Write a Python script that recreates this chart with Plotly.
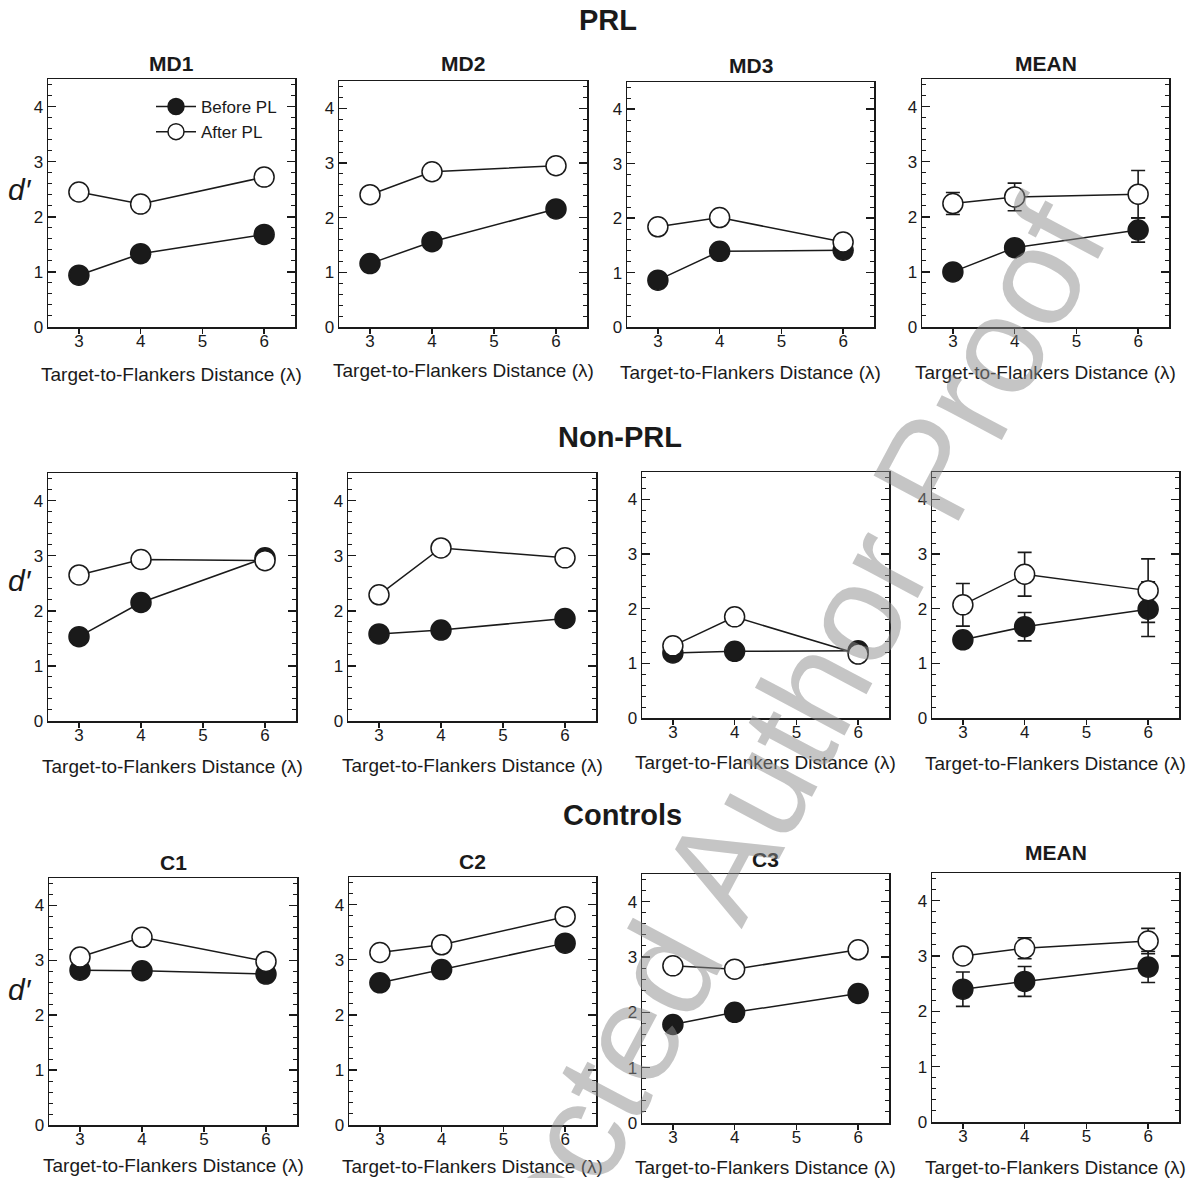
import plotly.graph_objects as go

# ---------------- data ----------------
x_dist = [3, 4, 6]
x_ticks = [3, 4, 5, 6]
y_ticks = [0, 1, 2, 3, 4]

# PRL group
prl_md1_before = [0.94, 1.33, 1.68]
prl_md1_after = [2.45, 2.23, 2.72]
prl_md2_before = [1.16, 1.56, 2.16]
prl_md2_after = [2.42, 2.84, 2.95]
prl_md3_before = [0.86, 1.39, 1.41]
prl_md3_after = [1.84, 2.01, 1.56]
prl_mean_before = [1.00, 1.44, 1.76]
prl_mean_after = [2.24, 2.36, 2.41]
prl_mean_before_err = [0.08, 0.08, 0.22]
prl_mean_after_err = [0.20, 0.25, 0.43]

# Non-PRL group
nprl_md1_before = [1.53, 2.15, 2.96]
nprl_md1_after = [2.65, 2.93, 2.91]
nprl_md2_before = [1.58, 1.65, 1.86]
nprl_md2_after = [2.29, 3.14, 2.96]
nprl_md3_before = [1.19, 1.22, 1.23]
nprl_md3_after = [1.32, 1.85, 1.17]
nprl_mean_before = [1.43, 1.67, 1.99]
nprl_mean_after = [2.07, 2.63, 2.33]
nprl_mean_before_err = [0.10, 0.26, 0.50]
nprl_mean_after_err = [0.39, 0.40, 0.58]

# Controls
ctrl_c1_before = [2.82, 2.81, 2.75]
ctrl_c1_after = [3.06, 3.42, 2.98]
ctrl_c2_before = [2.58, 2.82, 3.30]
ctrl_c2_after = [3.13, 3.27, 3.78]
ctrl_c3_before = [1.78, 2.00, 2.34]
ctrl_c3_after = [2.84, 2.78, 3.13]
ctrl_mean_before = [2.40, 2.54, 2.80]
ctrl_mean_after = [3.00, 3.14, 3.27]
ctrl_mean_before_err = [0.31, 0.27, 0.28]
ctrl_mean_after_err = [0.05, 0.19, 0.23]

panel_titles = ["MD1", "MD2", "MD3", "MEAN",
                "", "", "", "",
                "C1", "C2", "C3", "MEAN"]
group_titles = ["PRL", "Non-PRL", "Controls"]
x_title = "Target-to-Flankers Distance (λ)"
y_title = "d′"
legend_names = ["Before PL", "After PL"]
watermark = "Corrected Author Proof"

# ---------------- layout geometry (pixels of the target page) ----------------
W, H = 1199, 1188
YK = 1188 / 1178.0


def px(xp):
    return xp / W


def py(yp):
    return 1 - (yp * YK) / H


# (left, right, top, bottom) of each plot box
boxes = [
    (48, 295, 79, 327), (339, 587, 81, 327), (627, 874, 82, 327), (922, 1169, 79, 327),
    (48, 296, 473, 721), (348, 596, 473, 721), (642, 889, 472, 718), (932, 1179, 472, 718),
    (49, 297, 878, 1125), (349, 596, 877, 1125), (642, 889, 874, 1123), (932, 1179, 873, 1122),
]
title_y = [63, 64, 65, 63, 0, 0, 0, 0, 862, 861, 860, 852]
xtitle_y = [375, 371, 372, 372, 766, 765, 762, 763, 1165, 1166, 1167, 1167]
group_title_pos = [(608, 20), (620, 437), (622, 815)]
ytitle_pos = [(20, 189), (20, 581), (20, 989)]

befores = [prl_md1_before, prl_md2_before, prl_md3_before, prl_mean_before,
           nprl_md1_before, nprl_md2_before, nprl_md3_before, nprl_mean_before,
           ctrl_c1_before, ctrl_c2_before, ctrl_c3_before, ctrl_mean_before]
afters = [prl_md1_after, prl_md2_after, prl_md3_after, prl_mean_after,
          nprl_md1_after, nprl_md2_after, nprl_md3_after, nprl_mean_after,
          ctrl_c1_after, ctrl_c2_after, ctrl_c3_after, ctrl_mean_after]
before_errs = {3: prl_mean_before_err, 7: nprl_mean_before_err, 11: ctrl_mean_before_err}
after_errs = {3: prl_mean_after_err, 7: nprl_mean_after_err, 11: ctrl_mean_after_err}

FONT = "Liberation Sans, Arial, Helvetica, sans-serif"
INK = "#1a1a1a"

fig = go.Figure()
annotations = []

for i, (l, r, t, b) in enumerate(boxes):
    sfx = "" if i == 0 else str(i + 1)
    xa, ya = "x" + sfx, "y" + sfx
    for k, (vals, errs, fill) in enumerate([(befores[i], before_errs.get(i), INK),
                                            (afters[i], after_errs.get(i), "white")]):
        tr = dict(
            x=x_dist, y=vals, mode="lines+markers", xaxis=xa, yaxis=ya,
            name=legend_names[k], showlegend=(i == 0),
            line=dict(color=INK, width=1.5),
            marker=dict(symbol="circle", size=20, color=fill,
                        line=dict(color=INK, width=1.5)),
            cliponaxis=False,
        )
        if errs is not None:
            tr["error_y"] = dict(type="data", array=errs, visible=True,
                                 color=INK, thickness=1.6, width=7)
        fig.add_trace(go.Scatter(**tr))

    fig.layout["xaxis" + sfx] = dict(
        domain=[px(l), px(r)], anchor=ya, range=[2.5, 6.5],
        tickvals=x_ticks, ticks="outside", ticklen=5, tickwidth=1.5, tickcolor=INK,
        ticklabelstandoff=-7,
        showline=True, linecolor=INK, linewidth=1.5, mirror=True,
        showgrid=False, zeroline=False,
        tickfont=dict(family=FONT, size=17, color=INK),
    )
    fig.layout["yaxis" + sfx] = dict(
        domain=[py(b), py(t)], anchor=xa, range=[0, 4.5],
        tickvals=y_ticks, ticks="inside", ticklen=8, tickwidth=1.5, tickcolor=INK,
        minor=dict(tick0=0, dtick=0.2, ticks="inside", ticklen=4, tickwidth=1, tickcolor=INK),
        showline=True, linecolor=INK, linewidth=1.5, mirror="ticks",
        showgrid=False, zeroline=False,
        tickfont=dict(family=FONT, size=17, color=INK),
    )
    cx = px((l + r) / 2)
    if panel_titles[i]:
        annotations.append(dict(text="<b>%s</b>" % panel_titles[i], x=cx, y=py(title_y[i]),
                                xref="paper", yref="paper", showarrow=False,
                                xanchor="center", yanchor="middle",
                                font=dict(family=FONT, size=21, color=INK)))
    annotations.append(dict(text=x_title, x=cx, y=py(xtitle_y[i]),
                            xref="paper", yref="paper", showarrow=False,
                            xanchor="center", yanchor="middle",
                            font=dict(family=FONT, size=19, color=INK)))

for g, (gx, gy) in zip(group_titles, group_title_pos):
    annotations.append(dict(text="<b>%s</b>" % g, x=px(gx), y=py(gy),
                            xref="paper", yref="paper", showarrow=False,
                            xanchor="center", yanchor="middle",
                            font=dict(family=FONT, size=29, color=INK)))
for (yx, yy) in ytitle_pos:
    annotations.append(dict(text="<i>%s</i>" % y_title, x=px(yx), y=py(yy),
                            xref="paper", yref="paper", showarrow=False,
                            xanchor="center", yanchor="middle",
                            font=dict(family=FONT, size=30, color=INK)))

# watermark
annotations.append(dict(text=watermark, x=px(732), y=py(845),
                        xref="paper", yref="paper", showarrow=False, textangle=-62,
                        xanchor="center", yanchor="middle",
                        font=dict(family=FONT, size=140, color="rgba(140,140,140,0.50)")))

fig.update_layout(
    width=W, height=H, margin=dict(l=0, r=0, t=0, b=0),
    paper_bgcolor="white", plot_bgcolor="white",
    annotations=annotations,
    showlegend=True,
    legend=dict(x=px(151), y=py(89), xanchor="left", yanchor="top",
                bgcolor="rgba(0,0,0,0)", font=dict(family=FONT, size=17, color=INK),
                tracegroupgap=0, itemwidth=40),
)

page_fix = "document.body.style.margin='0';"
fig.write_html("out.html", post_script=page_fix,
               config=dict(displayModeBar=False, staticPlot=True))
